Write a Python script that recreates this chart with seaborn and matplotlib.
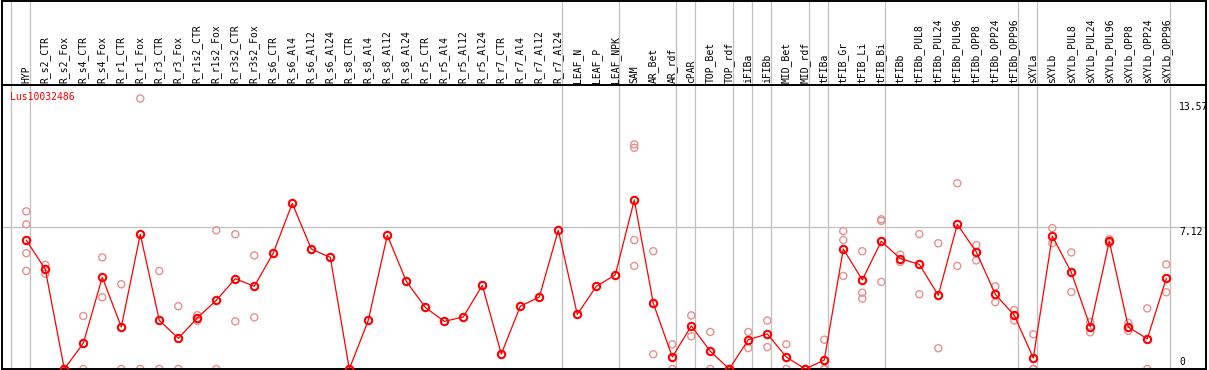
import pandas as pd
from matplotlib import pyplot as plt
import seaborn as sns
import numpy as np

categories = ['HYP', 'R_s2_CTR', 'R_s2_Fox', 'R_s4_CTR', 'R_s4_Fox', 'R_r1_CTR', 'R_r1_Fox',
              'R_r3_CTR', 'R_r3_Fox', 'R_r1s2_CTR', 'R_r1s2_Fox', 'R_r3s2_CTR', 'R_r3s2_Fox',
              'R_s6_CTR', 'R_s6_Al4', 'R_s6_Al12', 'R_s6_Al24', 'R_s8_CTR', 'R_s8_Al4',
              'R_s8_Al12', 'R_s8_Al24', 'R_r5_CTR', 'R_r5_Al4', 'R_r5_Al12', 'R_r5_Al24',
              'R_r7_CTR', 'R_r7_Al4', 'R_r7_Al12', 'R_r7_Al24', 'LEAF_N', 'LEAF_P', 'LEAF_NPK',
              'SAM', 'AR_Bet', 'AR_rdf', 'cPAR', 'TOP_Bet', 'TOP_rdf', 'iFIBa', 'iFIBb',
              'MID_Bet', 'MID_rdf', 'tFIBa', 'tFIB_Gr', 'tFIB_Li', 'tFIB_Bi', 'tFIBb',
              'tFIBb_PUL8', 'tFIBb_PUL24', 'tFIBb_PUL96', 'tFIBb_OPP8', 'tFIBb_OPP24',
              'tFIBb_OPP96', 'sXYLa', 'sXYLb', 'sXYLb_PUL8', 'sXYLb_PUL24', 'sXYLb_PUL96',
              'sXYLb_OPP8', 'sXYLb_OPP24', 'sXYLb_OPP96']

means = [6.46, 5.00, 0, 1.29, 4.60, 2.11, 6.76, 2.44, 1.54, 2.56, 3.45, 4.53, 4.15,
         5.82, 8.31, 6.02, 5.60, 0, 2.44, 6.71, 4.40, 3.09, 2.39, 2.61, 4.20, 0.75,
         3.15, 3.61, 6.96, 2.74, 4.15, 4.72, 8.48, 3.30, 0.60, 2.16, 0.89, 0, 1.47,
         1.76, 0.60, 0, 0.45, 6.02, 4.47, 6.41, 5.54, 5.25, 3.70, 7.26, 5.87, 3.75,
         2.69, 0.55, 6.67, 4.85, 2.11, 6.41, 2.11, 1.51, 4.55]

# replicate values per sample (empty = not shown)
reps = [[7.91, 7.26, 5.81, 4.92], [5.22, 4.78], [0, 0], [2.66, 0], [5.60, 3.60],
        [4.25, 0], [13.57, 0], [4.92, 0], [3.15, 0], [2.70, 2.42], [6.96, 0],
        [6.76, 2.39], [5.70, 2.59],
        [], [], [], [], [], [], [], [], [], [], [], [], [], [], [], [], [], [], [],
        [11.27, 11.10, 6.47, 5.17], [5.91, 0.74], [1.24, 0], [2.69, 1.64], [1.86, 0],
        [0, 0], [1.86, 1.05], [2.43, 1.10], [1.24, 0], [0, 0], [1.47, 0, 0],
        [6.92, 6.47, 4.67], [5.91, 3.83, 3.53], [7.51, 7.43, 4.37], [5.74, 5.37],
        [6.77, 3.75], [6.31, 1.04], [9.32, 5.17], [6.22, 5.45], [4.15, 3.35],
        [2.96, 2.44], [1.74, 0, 0], [7.07, 6.31], [5.85, 3.86], [2.36, 1.84],
        [6.51, 6.31], [2.31, 1.91], [3.04, 0], [5.25, 3.85]]

# last sample index of each group (separator drawn after it)
group_ends = [-1, 0, 28, 31, 34, 35, 37, 38, 39, 41, 42, 45, 52, 53, 60]
gene = 'Lus10032486'
ref_lines = [13.57, 7.12, 0]

pos = np.arange(len(categories))
df_mean = pd.DataFrame({'pos': pos, 'value': means})
df_rep = pd.DataFrame([(i, v) for i, r in enumerate(reps) for v in r], columns=['pos', 'value'])

sns.set_style('white')
W, H = 1209, 370
fig = plt.figure(figsize=(W / 100, H / 100), dpi=100)
left, right = 1.5 / W, 1206 / W
ax = fig.add_axes([left, 1 / H, right - left, 284 / H])
hx = fig.add_axes([left, 285 / H, right - left, 84.5 / H], sharex=ax)

grey = '#c0c0c0'
pink = '#e89090'
xmin, xmax = -1.305, 62.09

for a in (ax, hx):
    for g in group_ends:
        a.axvline(g + 0.21, color=grey, lw=0.9, zorder=0)
    for s in a.spines.values():
        s.set_color('black')
        s.set_linewidth(1.4)
    a.tick_params(left=False, bottom=False, labelleft=False, labelbottom=False)
    a.set_xlabel('')
    a.set_ylabel('')

ax.axhline(ref_lines[1], color=grey, lw=0.9, zorder=0)

sns.scatterplot(data=df_rep, x='pos', y='value', ax=ax, marker='o', s=26,
                facecolor='none', edgecolor=pink, linewidth=1.0, zorder=2)
sns.lineplot(data=df_mean, x='pos', y='value', ax=ax, color='red', lw=0.9,
             marker='o', markersize=5.3, markerfacecolor='none',
             markeredgecolor='red', markeredgewidth=1.5, zorder=3)

ax.set_xlim(xmin, xmax)
ax.set_ylim(0, 14.25)
ax.set_xlabel('')
ax.set_ylabel('')
hx.set_ylim(0, 1)

mono = 'DejaVu Sans Mono'
for i, c in enumerate(categories):
    hx.text(i, 0.025, c, rotation=90, ha='center', va='bottom',
            fontsize=7, family=mono, color='black')

fig.text(10 / W, 1 - 97 / H, gene, color='red', fontsize=7, family=mono,
         ha='left', va='center')
for val, ypix in zip(ref_lines, [107, 232, 362]):
    fig.text(1179 / W, 1 - ypix / H, f'{val:g}', color='black', fontsize=7,
             family=mono, ha='left', va='center')

plt.savefig('out.png', dpi=100)
plt.close()
